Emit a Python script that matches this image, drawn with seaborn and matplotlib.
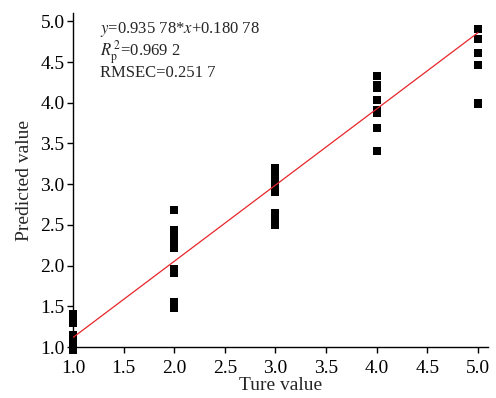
import numpy as np
import pandas as pd
import seaborn as sns
import matplotlib.pyplot as plt

# Values
true_1 = [1.0] * 7
pred_1 = [1.41, 1.36, 1.30, 1.15, 1.08, 1.02, 0.97]
true_2 = [2.0] * 9
pred_2 = [2.68, 2.44, 2.38, 2.30, 2.22, 1.96, 1.91, 1.55, 1.48]
true_3 = [3.0] * 8
pred_3 = [3.20, 3.12, 3.05, 2.98, 2.91, 2.65, 2.55, 2.50]
true_4 = [4.0] * 8
pred_4 = [4.33, 4.22, 4.18, 4.03, 3.91, 3.87, 3.69, 3.41]
true_5 = [5.0] * 5
pred_5 = [4.90, 4.78, 4.61, 4.46, 3.99]

slope = 0.93578
intercept = 0.18078
fit_x = [1.0, 5.0]

df = pd.DataFrame({
    'true': true_1 + true_2 + true_3 + true_4 + true_5,
    'pred': pred_1 + pred_2 + pred_3 + pred_4 + pred_5,
})
fit_df = pd.DataFrame({'x': fit_x, 'y': [slope * v + intercept for v in fit_x]})

sns.set_style('ticks')
plt.rcParams['font.family'] = ['Liberation Serif', 'DejaVu Serif']
plt.rcParams['mathtext.fontset'] = 'stix'

fig = plt.figure(figsize=(4.96, 3.98), dpi=100)
ax = fig.add_axes([0.147, 0.128, 0.837, 0.839])

sns.scatterplot(data=df, x='true', y='pred', marker='s', s=34, color='black',
                edgecolor='none', clip_on=False, ax=ax, zorder=3)
sns.lineplot(data=fit_df, x='x', y='y', color='#e8262a', linewidth=0.9, ax=ax, zorder=4)

ax.set_xlim(1.0, 5.1)
ax.set_ylim(1.0, 5.1)
ax.set_xticks(np.arange(1.0, 5.01, 0.5))
ax.set_yticks(np.arange(1.0, 5.01, 0.5))
ax.xaxis.set_major_formatter(plt.FormatStrFormatter('%.1f'))
ax.yaxis.set_major_formatter(plt.FormatStrFormatter('%.1f'))
ax.tick_params(labelsize=14, length=4, width=1, direction='out', colors='black')
ax.tick_params(axis='x', pad=5)
ax.tick_params(axis='y', pad=2)
for s in ['left', 'bottom']:
    ax.spines[s].set_linewidth(1)
    ax.spines[s].set_color('black')
sns.despine(ax=ax)

ax.set_xlabel('Ture value', fontsize=14, labelpad=0)
ax.set_ylabel('Predicted value', fontsize=14, labelpad=5)

ax.text(0.065, 0.978,
        '$y$=0.935 78*$x$+0.180 78\n$R_{\\mathrm{p}}^{\\,2}$=0.969 2\nRMSEC=0.251 7',
        transform=ax.transAxes, fontsize=12, va='top', ha='left', linespacing=0.9)

fig.savefig('out.png', dpi=100)
